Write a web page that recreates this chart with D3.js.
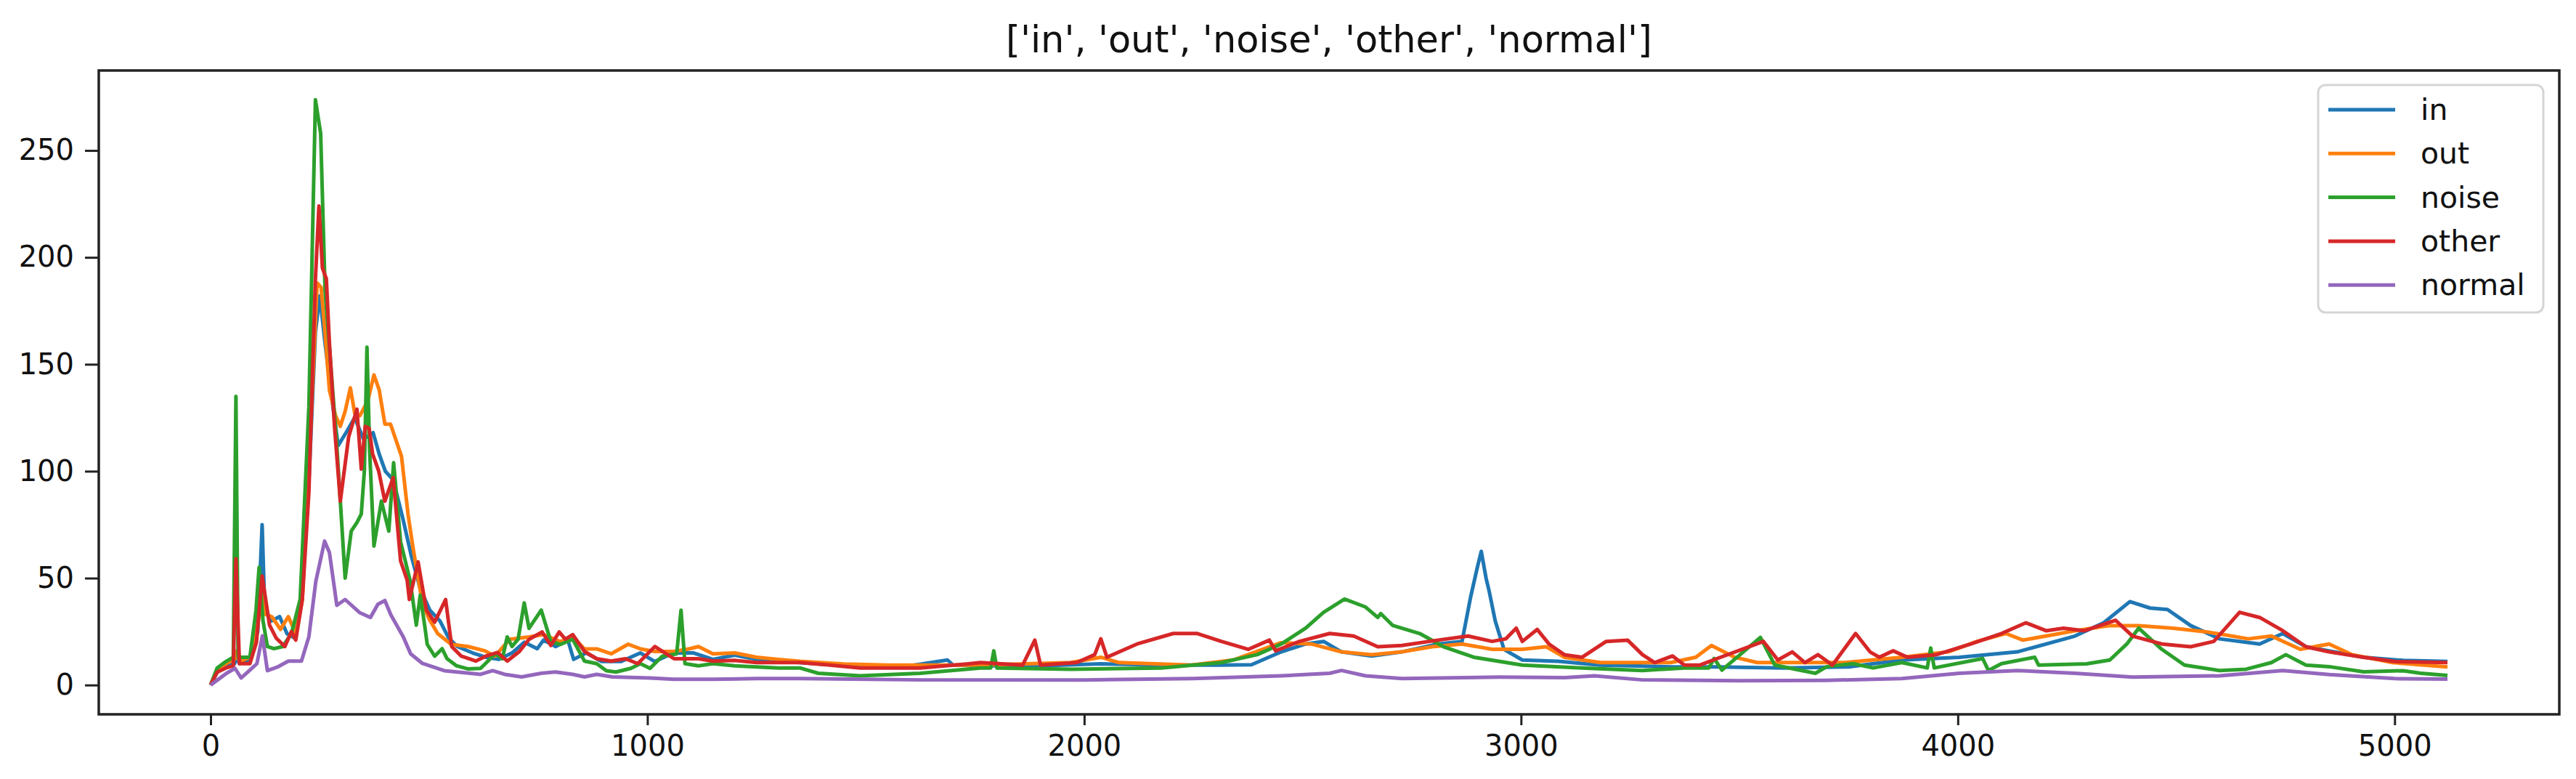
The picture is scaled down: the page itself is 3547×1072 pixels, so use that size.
<!DOCTYPE html>
<html>
<head>
<meta charset="utf-8">
<script src="https://cdn.jsdelivr.net/npm/d3@7"></script>
<style>
  body { margin: 0; background: #fff; }
  text { font-family: "DejaVu Sans", sans-serif; fill: #111; }
</style>
</head>
<body>
<svg id="chart" width="3547" height="1072"></svg>
<script>
// labels + tick values
var seriesNames = ["in", "out", "noise", "other", "normal"];
var seriesColors = ["#1f77b4", "#ff7f0e", "#2ca02c", "#d62728", "#9467bd"];
var xTicks = [0, 1000, 2000, 3000, 4000, 5000];
var yTicks = [0, 50, 100, 150, 200, 250];
var chartTitle = "['in', 'out', 'noise', 'other', 'normal']";

// series values, [x, y]
var inData = [[0,0],[15,6],[35,9],[55,10],[60,13],[66,10],[90,12],[108,25],[118,75],[124,35],[140,30],[158,32],[175,24],[192,22],[208,38],[225,95],[240,165],[250,182],[262,160],[275,138],[292,112],[310,118],[330,125],[350,115],[372,118],[386,108],[400,100],[418,96],[440,78],[460,60],[480,45],[502,35],[525,30],[545,22],[565,18],[600,15],[630,13],[660,12],[690,15],[718,20],[748,17],[762,21],[790,18],[818,21],[831,12],[860,15],[895,11],[940,11],[984,15],[1017,11],[1060,15],[1106,15],[1150,12],[1200,14],[1250,12],[1300,11],[1349,10.5],[1420,9.5],[1500,9],[1600,9],[1687,11.7],[1700,9.3],[1800,9],[1900,9],[2038,9.9],[2200,9.3],[2314,9.3],[2383,9.5],[2451,15.5],[2507,19.2],[2548,20.4],[2589,15.5],[2658,13.6],[2727,15.5],[2810,19.2],[2865,20.4],[2885,41.5],[2900,55],[2909,62.5],[2920,50],[2927,44],[2941,30],[2961,16.7],[3003,11.7],[3085,11.1],[3180,9.3],[3347,8.5],[3450,8.5],[3600,8],[3750,8.5],[3872,11.7],[4004,13],[4136,15.5],[4268,22.9],[4334,29.1],[4394,39],[4440,36],[4480,35.3],[4533,27.8],[4599,21.6],[4691,19.2],[4744,24.1],[4797,17.9],[4929,13],[5020,11.5],[5121,11]];

var outData = [[0,0],[15,7],[35,10],[55,12],[60,16],[66,11],[90,13],[108,28],[118,42],[126,33],[140,32],[160,26],[178,32],[195,24],[210,40],[228,115],[244,188],[253,186],[262,165],[272,138],[286,126],[297,121],[308,128],[320,139],[330,127],[342,126],[360,133],[374,145],[386,138],[399,122],[412,122],[437,107],[452,80],[462,66],[485,38],[500,31],[520,24],[551,19],[590,18],[628,16],[651,13.5],[685,21.4],[729,22.5],[762,23.6],[801,20.3],[829,22.5],[856,16.9],[884,16.9],[917,14.6],[956,19.1],[984,16.9],[1017,15.7],[1061,15.7],[1095,16.9],[1117,18],[1150,14.6],[1200,15],[1250,13],[1300,12],[1349,11.1],[1450,9.8],[1550,9.3],[1763,9.3],[1969,10.5],[2038,13],[2080,10.5],[2245,9.3],[2341,11.7],[2424,17.9],[2451,19.8],[2520,19.2],[2589,15.5],[2658,14.2],[2727,15.5],[2796,17.9],[2865,19.2],[2934,16.7],[3003,16.7],[3058,17.9],[3099,13],[3182,10.5],[3278,10.5],[3343,10.5],[3400,13],[3436,18.5],[3489,13],[3541,10.5],[3740,10.5],[3872,13],[3978,15.5],[4044,20.4],[4110,24.1],[4149,21],[4202,22.9],[4268,25.4],[4348,27.8],[4414,27.8],[4493,26.6],[4572,24.8],[4665,21.6],[4718,22.9],[4784,16.7],[4850,19.2],[4903,14.2],[4995,10.5],[5121,8.5]];

var noiseData = [[0,0],[15,8],[35,11],[52,13],[58,135],[63,13],[90,13],[104,35],[111,55],[120,30],[130,18],[145,17],[165,18],[185,24],[205,40],[225,130],[240,273.7],[252,258],[262,185],[275,150],[288,115],[297,86],[308,50],[322,72],[335,76],[345,80],[352,100],[358,158],[364,110],[374,65],[391,86],[408,72],[419,104],[435,67],[457,48.6],[471,28],[480,42],[490,28],[496,19],[513,13.5],[530,17],[541,12.4],[563,9],[590,7.5],[618,7.8],[635,11.2],[651,14.6],[668,12.3],[679,22.5],[690,18],[704,21.4],[718,38.4],[729,26.5],[757,35],[779,20.3],[801,19],[829,21.4],[856,11.2],[884,10],[906,6.7],[928,6.1],[962,7.8],[984,10],[1006,7.8],[1034,13.5],[1067,14.6],[1077,35],[1086,10],[1117,9],[1150,10],[1200,9],[1250,8.5],[1300,8],[1349,8],[1391,5.5],[1487,4.3],[1625,5.5],[1763,8],[1786,8],[1793,16],[1800,8],[1969,7.4],[2176,8],[2314,10.5],[2396,14.2],[2451,19.2],[2507,26.6],[2548,34],[2596,40.2],[2644,36.5],[2672,31.6],[2679,33.4],[2706,27.9],[2768,24.1],[2823,17.9],[2892,13],[3003,9.3],[3140,8],[3278,6.8],[3374,8],[3430,8],[3442,12.4],[3460,7],[3548,22.3],[3581,9.3],[3674,5.5],[3700,8.6],[3760,10],[3806,8],[3872,10.5],[3930,8],[3938,17.3],[3946,8],[4057,12.4],[4070,6.8],[4100,10],[4176,13],[4185,9.3],[4295,9.9],[4348,11.7],[4387,19.2],[4414,26.6],[4467,16.7],[4519,9.3],[4599,6.8],[4660,7.4],[4718,10.5],[4751,14.2],[4797,9.3],[4850,8.6],[4929,6.2],[5019,6.7],[5060,5.5],[5121,4.5]];

var otherData = [[0,0],[15,6],[35,8],[52,9],[58,59],[66,10],[90,10],[105,20],[118,51],[135,28],[150,22],[170,18],[185,25],[195,21],[210,40],[225,90],[240,190],[248,224],[256,195],[265,190],[272,160],[284,120],[297,86],[316,116],[335,129],[345,101],[354,121],[363,120],[371,108],[385,100],[399,86],[418,97],[435,58],[450,49],[455,40],[475,57.6],[494,35],[513,29.4],[538,40],[552,18],[574,13.5],[607,11.2],[630,13.5],[657,15.2],[679,11.2],[707,15.7],[729,21.4],[759,24.8],[779,18.5],[798,24.8],[812,21.4],[829,23.6],[856,15.7],[884,12.3],[917,11.2],[950,12.3],[978,10],[1017,18],[1061,12.3],[1117,12.3],[1150,11.2],[1200,11.5],[1250,10.5],[1300,10.5],[1349,10.5],[1418,9.3],[1487,8],[1625,8],[1735,9.9],[1763,10.5],[1859,9.3],[1887,21],[1900,9.3],[1983,10.5],[2024,14.2],[2038,21.6],[2052,13],[2121,19.2],[2204,24.1],[2259,24.1],[2314,20.4],[2376,16.7],[2424,21],[2438,16],[2493,20.4],[2562,24.1],[2617,22.9],[2672,17.9],[2727,18.5],[2810,21],[2879,22.9],[2934,20.4],[2965,21.6],[2989,26.6],[3003,20.4],[3037,26],[3064,19.2],[3099,14.2],[3140,13],[3195,20.4],[3244,21],[3278,14.2],[3306,10.5],[3347,13.6],[3374,9.3],[3409,9.3],[3440,11.7],[3555,20.4],[3588,11.7],[3621,15.5],[3650,10.5],[3680,14.2],[3713,9.3],[3766,24.1],[3799,15.5],[3820,13],[3852,16],[3885,13],[3951,14.2],[4030,19.2],[4100,24.1],[4156,29.1],[4202,25.4],[4242,26.6],[4290,25.4],[4361,30.3],[4400,22.9],[4467,19.2],[4533,17.9],[4586,20.4],[4645,34],[4691,31.6],[4744,25.4],[4797,17.9],[4850,15.5],[4929,13],[5000,11],[5121,10.5]];

var normalData = [[0,0],[20,3],[37,5.6],[56,7.8],[70,3.3],[90,7],[106,10],[118.6,23],[130,6.7],[153,8.4],[178,11.2],[208,11.2],[225,22.6],[241,48.6],[261,67.3],[272,62],[289,37.3],[308,40],[341,33.9],[366,31.6],[383,37.8],[399,39.5],[413,32.7],[441,22.6],[458,14.6],[485,10.1],[535,6.7],[590,5.6],[618,5],[646,6.7],[673,5],[712,3.8],[757,5.5],[790,6.1],[829,5],[856,3.8],[884,5],[920,3.8],[1006,3.3],[1061,2.7],[1150,2.7],[1250,3],[1349,3],[1625,2.4],[2000,2.4],[2250,3],[2451,4.3],[2562,5.5],[2589,6.8],[2644,4.3],[2727,3],[2950,3.7],[3100,3.5],[3168,4.3],[3278,2.4],[3500,2],[3700,2.2],[3872,3],[4004,5.5],[4136,6.8],[4268,5.5],[4400,3.7],[4599,4.3],[4744,6.8],[4850,4.9],[5000,3],[5121,2.8]];

var allSeries = [inData, outData, noiseData, otherData, normalData];

var svg = d3.select("#chart");
var plotLeft = 136, plotRight = 3524, plotTop = 97, plotBottom = 983;

// matplotlib style 5% margins
var x = d3.scaleLinear().domain([-256, 5377]).range([plotLeft, plotRight]);
var y = d3.scaleLinear().domain([-13.7, 287.4]).range([plotBottom, plotTop]);

svg.append("rect").attr("width", 3547).attr("height", 1072).attr("fill", "#fff");

var line = d3.line()
    .x(function (d) { return x(d[0]); })
    .y(function (d) { return y(d[1]); });

var plot = svg.append("g");
allSeries.forEach(function (s, i) {
  plot.append("path")
      .datum(s)
      .attr("fill", "none")
      .attr("stroke", seriesColors[i])
      .attr("stroke-width", 5)
      .attr("stroke-linejoin", "round")
      .attr("d", line);
});

// axes
var xAxis = svg.append("g")
    .attr("transform", "translate(0," + plotBottom + ")")
    .call(d3.axisBottom(x).tickValues(xTicks).tickFormat(d3.format("d")).tickSize(15).tickPadding(14));
var yAxis = svg.append("g")
    .attr("transform", "translate(" + plotLeft + ",0)")
    .call(d3.axisLeft(y).tickValues(yTicks).tickFormat(d3.format("d")).tickSize(19).tickPadding(15));

[xAxis, yAxis].forEach(function (a) {
  a.select(".domain").remove();
  a.selectAll(".tick line").attr("stroke", "#222").attr("stroke-width", 3);
  a.selectAll(".tick text").attr("font-size", 40).attr("fill", "#111")
      .style("font-family", "DejaVu Sans, sans-serif");
});

// frame
svg.append("rect")
    .attr("x", plotLeft).attr("y", plotTop)
    .attr("width", plotRight - plotLeft).attr("height", plotBottom - plotTop)
    .attr("fill", "none").attr("stroke", "#222").attr("stroke-width", 3.5);

// title
svg.append("text")
    .attr("x", (plotLeft + plotRight) / 2).attr("y", 72)
    .attr("text-anchor", "middle")
    .attr("font-size", 51)
    .text(chartTitle);

// legend
var legend = svg.append("g");
legend.append("rect")
    .attr("x", 3192).attr("y", 117).attr("width", 310).attr("height", 313)
    .attr("rx", 10).attr("ry", 10)
    .attr("fill", "#fff").attr("fill-opacity", 0.8)
    .attr("stroke", "#d5d5d5").attr("stroke-width", 3);

seriesNames.forEach(function (name, i) {
  var ly = 151 + i * 60.3;
  legend.append("line")
      .attr("x1", 3206).attr("x2", 3298)
      .attr("y1", ly).attr("y2", ly)
      .attr("stroke", seriesColors[i]).attr("stroke-width", 5);
  legend.append("text")
      .attr("x", 3333).attr("y", ly + 14)
      .attr("font-size", 41)
      .text(name);
});
</script>
</body>
</html>
